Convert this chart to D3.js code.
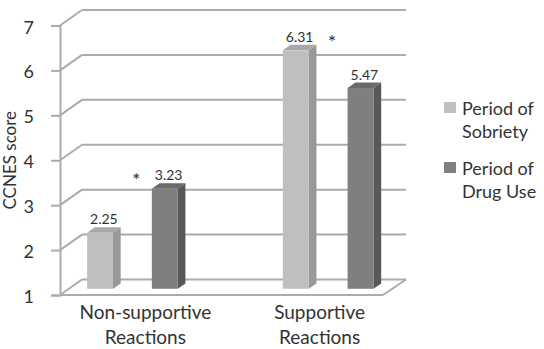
<!DOCTYPE html>
<html>
<head>
<meta charset="utf-8">
<script src="https://cdn.jsdelivr.net/npm/d3@7"></script>
<style>
  body { margin: 0; background: #fff; }
  text { font-family: Lato, "Open Sans", sans-serif; }
</style>
</head>
<body>
<div id="chart"></div>
<script>
// data
const categories = ["Non-supportive Reactions", "Supportive Reactions"];
const categoryLines = [["Non-supportive", "Reactions"], ["Supportive", "Reactions"]];
const seriesNames = ["Period of Sobriety", "Period of Drug Use"];
const legendLines = [["Period of", "Sobriety"], ["Period of", "Drug Use"]];
const sobriety = [2.25, 6.31];
const drugUse = [3.23, 5.47];
const significant = [true, true];
const yTicks = [1, 2, 3, 4, 5, 6, 7];

// colors: front, side, top
const barColors = [
  { front: "#bfbfbf", side: "#999999", top: "#a8a8a8" },
  { front: "#7f7f7f", side: "#585858", top: "#6a6a6a" }
];
const gridColor = "#ababab";
const textColor = "#333333";

const W = 544, H = 349;
const plot = { left: 60, right: 383, top: 25.5, bottom: 295 };
const depth = { dx: 22, dy: -15.5 };      // front to back wall
const barDepth = [0.4, 0.75];            // bar front / back as fraction of depth

const svg = d3.select("#chart").append("svg")
  .attr("width", W).attr("height", H);

const y = d3.scaleLinear().domain([1, 7]).range([plot.bottom, plot.top]);

const x0 = d3.scaleBand().domain(categories)
  .range([plot.left, plot.right]).paddingInner(0.35).paddingOuter(0);
const x1 = d3.scaleBand().domain(seriesNames)
  .range([0, x0.bandwidth()]).paddingInner(0.6).paddingOuter(0.283);

// point at a given depth fraction
const off = f => [depth.dx * f, depth.dy * f];

// back wall gridlines + left wall diagonals
const grid = svg.append("g");
yTicks.forEach(v => {
  const yb = y(v) + depth.dy;
  grid.append("line")
    .attr("x1", plot.left + depth.dx).attr("x2", plot.right + depth.dx + 1)
    .attr("y1", yb).attr("y2", yb)
    .attr("stroke", gridColor).attr("stroke-width", 2);
  grid.append("line")
    .attr("x1", plot.left).attr("y1", y(v))
    .attr("x2", plot.left + depth.dx).attr("y2", yb)
    .attr("stroke", gridColor).attr("stroke-width", 2);
});
// floor front + right edge
grid.append("line")
  .attr("x1", plot.left).attr("x2", plot.right)
  .attr("y1", y(1)).attr("y2", y(1))
  .attr("stroke", gridColor).attr("stroke-width", 2);
grid.append("line")
  .attr("x1", plot.right).attr("y1", y(1))
  .attr("x2", plot.right + depth.dx + 1).attr("y2", y(1) + depth.dy)
  .attr("stroke", gridColor).attr("stroke-width", 2);

// y axis
const yAxis = svg.append("g")
  .attr("transform", `translate(${plot.left},0)`)
  .call(d3.axisLeft(y).tickValues(yTicks).tickSize(9).tickPadding(17).tickFormat(d3.format("d")));
yAxis.select(".domain").attr("stroke", gridColor).attr("stroke-width", 2);
yAxis.selectAll(".tick line").attr("stroke", gridColor).attr("stroke-width", 2);
yAxis.selectAll(".tick text")
  .attr("fill", textColor).style("font-size", "18px").attr("dy", "0.42em");

// y title
svg.append("text")
  .attr("transform", `translate(16, ${(plot.top + plot.bottom) / 2}) rotate(-90)`)
  .attr("text-anchor", "middle")
  .attr("fill", textColor)
  .style("font-size", "17px")
  .text("CCNES score");

// bars
const bars = [];
categories.forEach((c, i) => {
  [sobriety[i], drugUse[i]].forEach((v, s) => {
    bars.push({ cat: c, series: seriesNames[s], s: s, value: v });
  });
});

const [fdx, fdy] = off(barDepth[0]);
const [bdx, bdy] = off(barDepth[1]);
const sdx = bdx - fdx, sdy = bdy - fdy;

const bg = svg.append("g").selectAll("g").data(bars).enter().append("g");
bg.each(function (d) {
  const g = d3.select(this);
  const xl = x0(d.cat) + x1(d.series) + fdx;
  const xr = xl + x1.bandwidth();
  const yt = y(d.value) + fdy;
  const yb = y(1) + fdy;
  const col = barColors[d.s];
  // side
  g.append("path")
    .attr("d", `M${xr},${yt}L${xr + sdx},${yt + sdy}L${xr + sdx},${yb + sdy}L${xr},${yb}Z`)
    .attr("fill", col.side);
  // top
  g.append("path")
    .attr("d", `M${xl},${yt}L${xl + sdx},${yt + sdy}L${xr + sdx},${yt + sdy}L${xr},${yt}Z`)
    .attr("fill", col.top);
  // front
  g.append("rect")
    .attr("x", xl).attr("y", yt)
    .attr("width", x1.bandwidth()).attr("height", yb - yt)
    .attr("fill", col.front);
  // value label
  g.append("text")
    .attr("x", xl + (x1.bandwidth() + sdx) / 2)
    .attr("y", yt + sdy - 3)
    .attr("text-anchor", "middle")
    .attr("fill", textColor)
    .style("font-size", "14px")
    .text(d3.format(".2f")(d.value));
});

// significance asterisks
categories.forEach((c, i) => {
  if (!significant[i]) return;
  const top = Math.max(sobriety[i], drugUse[i]);
  svg.append("text")
    .attr("x", x0(c) + x0.bandwidth() / 2 + fdx + sdx / 2)
    .attr("y", y(top) + fdy + sdy + 4)
    .attr("text-anchor", "middle")
    .attr("fill", textColor)
    .style("font-size", "20px")
    .text("*");
});

// category labels
const xl = d3.scalePoint().domain(categories)
  .range([plot.left, plot.right + depth.dx]).padding(0.49);
categories.forEach((c, i) => {
  const t = svg.append("text")
    .attr("text-anchor", "middle")
    .attr("fill", textColor)
    .style("font-size", "19px");
  categoryLines[i].forEach((line, k) => {
    t.append("tspan").attr("x", xl(c)).attr("y", 319 + k * 25).text(line);
  });
});

// legend
const legend = svg.append("g").attr("transform", "translate(444,102)");
seriesNames.forEach((s, i) => {
  const g = legend.append("g").attr("transform", `translate(0, ${i * 60})`);
  g.append("rect").attr("width", 12).attr("height", 11).attr("fill", barColors[i].front);
  legendLines[i].forEach((line, k) => {
    g.append("text")
      .attr("x", 18).attr("y", 13 + k * 23)
      .attr("fill", textColor)
      .style("font-size", "18px")
      .text(line);
  });
});
</script>
</body>
</html>
